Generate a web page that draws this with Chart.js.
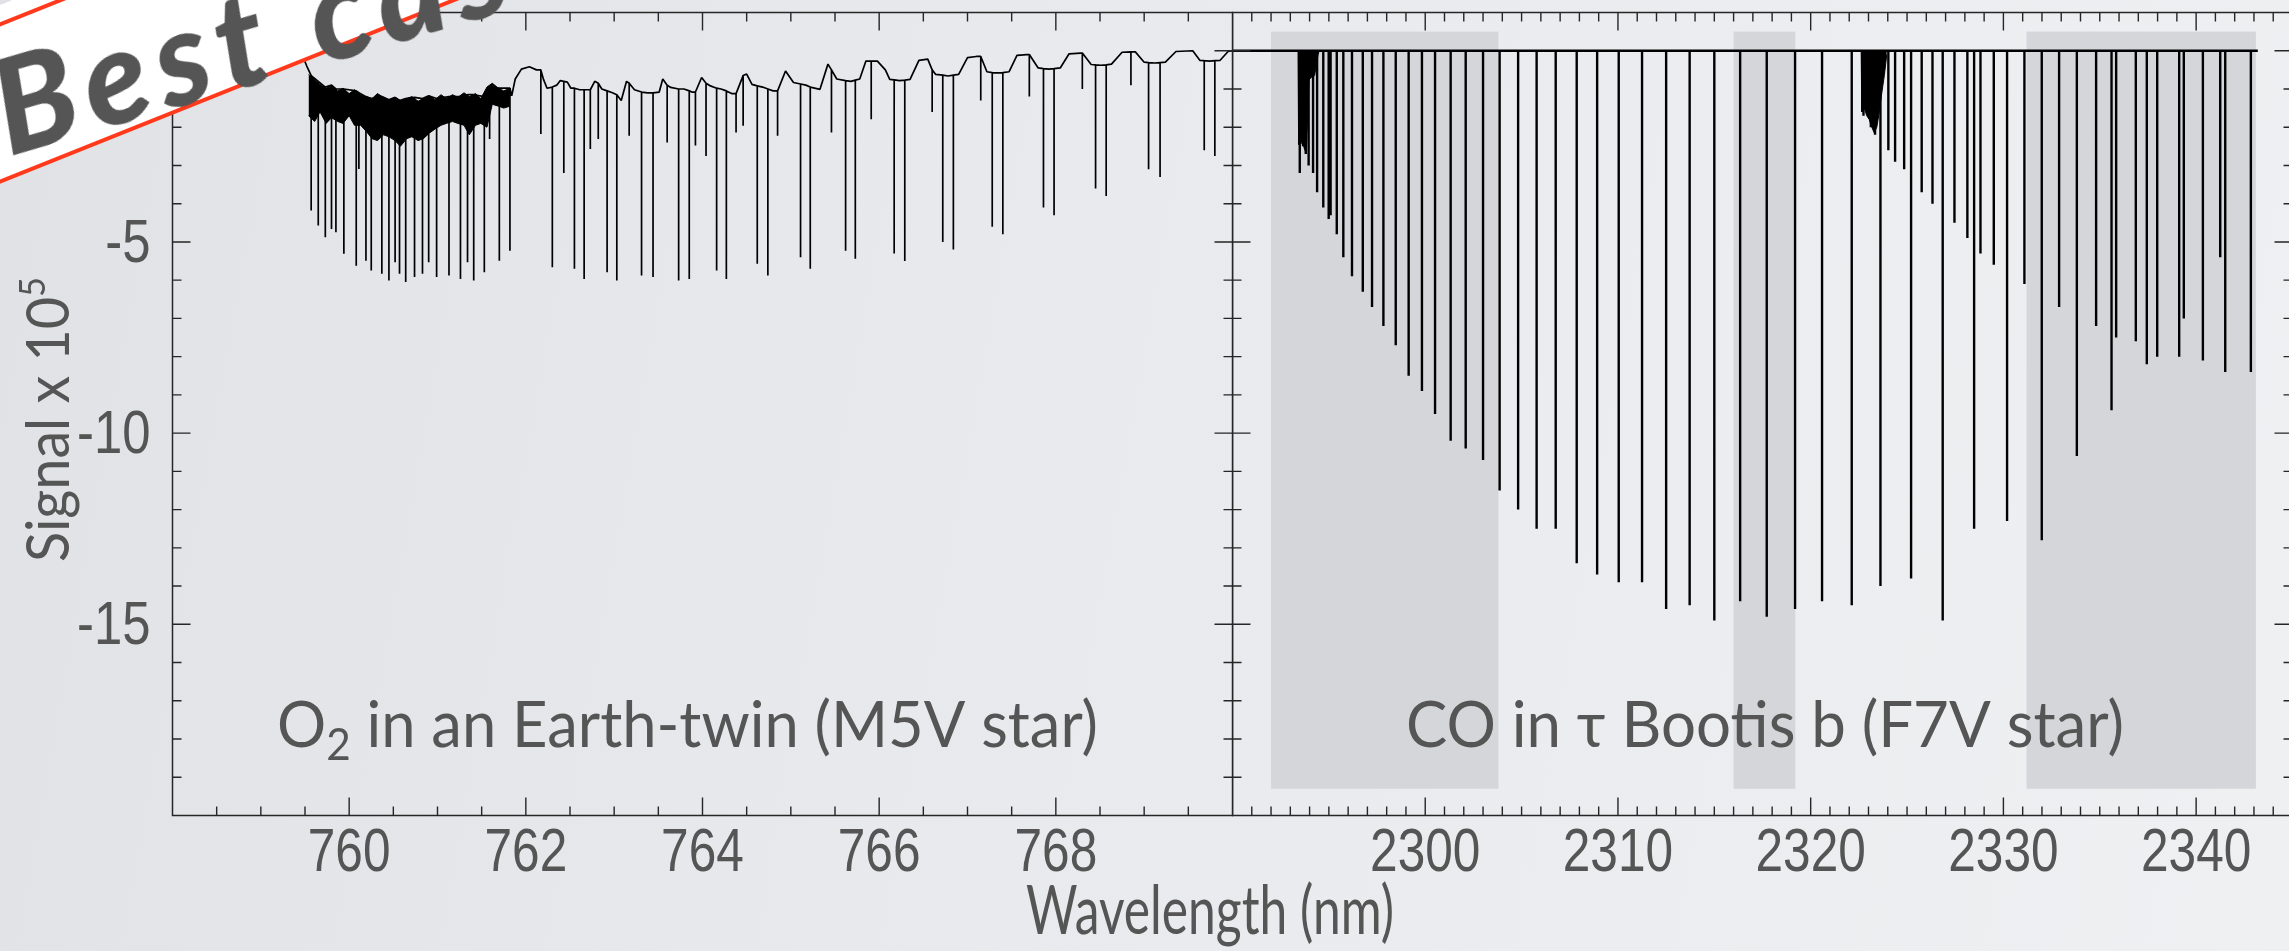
<!DOCTYPE html>
<html>
<head>
<meta charset="utf-8">
<title>O2 and CO transmission signal</title>
<script src="https://cdn.jsdelivr.net/npm/chart.js@4.4.1/dist/chart.umd.min.js"></script>
<style>
  html, body { margin: 0; padding: 0; }
  body {
    position: relative;
    width: 2289px;
    height: 951px;
    overflow: hidden;
    background: linear-gradient(100deg, #e1e2e6 0%, #e8e9ec 40%, #eef0f2 100%);
  }
  canvas { position: absolute; top: 0; }
  #o2Chart { left: 0; }
  #coChart { left: 1232px; }
  #banner {
    position: absolute;
    left: -150px;
    top: 88px;
    width: 820px;
    height: 150px;
    box-sizing: border-box;
    background: #fff;
    border-top: 4.5px solid #ff3a1c;
    border-bottom: 4.5px solid #ff3a1c;
    box-shadow: 0 -16px 0 0 #fff;
    transform-origin: 0 50%;
    transform: rotate(-21.8deg);
    padding-left: 152px;
    font: italic 900 132px Lato, "DejaVu Sans", sans-serif;
    letter-spacing: 10px;
    line-height: 146px;
    color: #555;
    white-space: nowrap;
  }
  #banner span {
    display: inline-block;
    transform-origin: 0 70%;
    transform: rotate(5.5deg);
  }
</style>
</head>
<body>
<canvas id="o2Chart" width="2295" height="951"></canvas>
<canvas id="coChart" width="1063" height="951"></canvas>
<div id="banner"><span>Best case</span></div>
<script>
// ---------- shared signal axis ----------
const yTickLabels = [-5, -10, -15];

// ---------- O2 A band, Earth twin around an M5V star ----------
const o2TickLabels = [760, 762, 764, 766, 768];

// continuum between the line cores
const o2ContWave = [
  758.00, 759.40, 759.47, 759.52, 761.84, 761.88, 761.95, 762.04, 762.12, 762.20,
  762.24, 762.35, 762.39, 762.47, 762.51, 762.61, 762.70, 762.78, 762.86, 762.98,
  763.08, 763.14, 763.23, 763.38, 763.51, 763.55, 763.64, 763.79, 763.88, 763.99,
  764.09, 764.21, 764.33, 764.50, 764.56, 764.68, 764.80, 764.94, 765.03, 765.17,
  765.33, 765.42, 765.52, 765.68, 765.78, 765.85, 765.98, 766.07, 766.12, 766.23,
  766.35, 766.45, 766.55, 766.64, 766.78, 766.90, 767.00, 767.10, 767.22, 767.34,
  767.47, 767.56, 767.67, 767.80, 767.92, 768.05, 768.15, 768.28, 768.40, 768.51,
  768.63, 768.75, 768.90, 769.00, 769.12, 769.24, 769.36, 769.55, 769.63, 769.74,
  769.86, 769.95, 770.00
];
const o2ContLevel = [
  0.00, -0.02, -0.12, -0.40, -1.18, -0.74, -0.48, -0.42, -0.50, -0.75,
  -0.98, -0.90, -0.78, -0.82, -0.98, -1.02, -1.02, -0.80, -1.00, -1.10,
  -1.30, -0.80, -1.02, -1.10, -1.08, -0.74, -0.96, -1.00, -1.08, -0.70,
  -0.92, -1.00, -1.12, -0.61, -0.88, -0.95, -1.05, -0.53, -0.83, -0.90,
  -1.01, -0.35, -0.74, -0.80, -0.74, -0.27, -0.27, -0.50, -0.75, -0.78,
  -0.75, -0.25, -0.22, -0.62, -0.66, -0.62, -0.18, -0.15, -0.55, -0.58,
  -0.55, -0.12, -0.10, -0.45, -0.48, -0.45, -0.08, -0.06, -0.36, -0.38,
  -0.35, -0.04, -0.03, -0.30, -0.32, -0.30, -0.02, 0.00, -0.25, -0.27,
  -0.25, -0.02, 0.00
];

// blended R branch: upper and lower edge of the dark band
const o2BandWave = [
  759.54, 759.61, 759.67, 759.74, 759.80, 759.87, 759.93, 760.00, 760.06, 760.13,
  760.19, 760.26, 760.32, 760.39, 760.45, 760.52, 760.58, 760.65, 760.71, 760.78,
  760.84, 760.91, 760.97, 761.04, 761.10, 761.17, 761.23, 761.30, 761.36, 761.43,
  761.49, 761.56, 761.62, 761.69, 761.75, 761.82
];
const o2BandTop = [
  -0.62, -0.75, -0.88, -0.98, -0.90, -1.05, -0.98, -1.12, -1.02, -1.15,
  -1.20, -1.25, -1.12, -1.22, -1.28, -1.22, -1.30, -1.25, -1.20, -1.32,
  -1.25, -1.18, -1.28, -1.15, -1.25, -1.15, -1.22, -1.10, -1.20, -1.12,
  -1.25, -0.95, -0.85, -0.98, -1.05, -0.98
];
const o2BandBottom = [
  -1.70, -1.85, -1.60, -1.90, -1.75, -1.85, -1.90, -1.70, -1.95, -1.95,
  -2.10, -2.30, -2.35, -2.20, -2.25, -2.35, -2.50, -2.30, -2.25, -2.35,
  -2.30, -2.15, -2.05, -1.95, -1.90, -1.85, -1.90, -1.95, -2.20, -1.95,
  -1.90, -2.00, -1.40, -1.45, -1.50, -1.45
];

// line cores: wavelength, level at the wings, depth at the core
const o2LineWave = [
  759.57, 759.65, 759.73, 759.80, 759.85, 759.94, 760.08, 760.11, 760.19, 760.25,
  760.37, 760.45, 760.52, 760.57, 760.64, 760.74, 760.83, 760.90, 760.99, 761.13,
  761.26, 761.34, 761.41, 761.53, 761.59, 761.70, 761.82, 762.17, 762.30, 762.43,
  762.55, 762.66, 762.73, 762.82, 762.92, 763.03, 763.17, 763.31, 763.44, 763.60,
  763.73, 763.85, 763.92, 764.04, 764.16, 764.27, 764.38, 764.46, 764.62, 764.74,
  764.85, 765.11, 765.22, 765.46, 765.62, 765.73, 765.91, 766.17, 766.29, 766.60,
  766.72, 766.84, 767.15, 767.28, 767.40, 767.70, 767.86, 767.98, 768.30, 768.45,
  768.57, 768.85, 769.05, 769.18, 769.68, 769.80
];
const o2LineTop = [
  -0.65, -0.80, -0.95, -0.90, -1.00, -1.00, -1.05, -1.10, -1.20, -1.25,
  -1.20, -1.28, -1.22, -1.30, -1.25, -1.22, -1.25, -1.18, -1.25, -1.20,
  -1.20, -1.15, -1.15, -1.20, -0.95, -0.98, -0.98, -0.50, -0.95, -0.80,
  -0.98, -1.02, -1.02, -0.85, -1.05, -1.15, -0.85, -1.08, -1.10, -0.90,
  -1.00, -1.05, -1.08, -0.85, -0.98, -1.05, -1.12, -0.65, -0.92, -1.00,
  -1.05, -0.87, -0.95, -0.50, -0.78, -0.77, -0.27, -0.76, -0.77, -0.50,
  -0.64, -0.64, -0.15, -0.57, -0.57, -0.10, -0.47, -0.47, -0.06, -0.37,
  -0.37, -0.03, -0.31, -0.31, -0.26, -0.26
];
const o2LineDepth = [
  -4.18, -4.57, -4.88, -4.66, -4.75, -5.31, -5.62, -3.09, -5.49, -5.75,
  -5.83, -6.01, -5.53, -5.83, -6.05, -5.92, -5.83, -5.53, -5.92, -5.88,
  -5.97, -5.53, -6.01, -5.79, -2.31, -5.49, -5.23, -2.18, -5.66, -3.20,
  -5.70, -5.97, -2.57, -2.31, -5.79, -6.01, -2.22, -5.88, -5.92, -2.40,
  -6.01, -5.97, -2.48, -2.75, -5.75, -5.97, -2.14, -1.96, -5.57, -5.88,
  -2.22, -5.40, -5.70, -2.14, -5.23, -5.44, -1.79, -5.30, -5.50, -1.60,
  -5.00, -5.20, -1.30, -4.60, -4.80, -1.20, -4.10, -4.30, -1.00, -3.60,
  -3.80, -0.90, -3.10, -3.30, -2.60, -2.75
];

// ---------- CO, tau Bootis b around an F7V star ----------
const coTickLabels = [2300, 2310, 2320, 2330, 2340];
const coContWave = [2290, 2343.2];
const coContLevel = [0, 0];

const coLineWave = [
  2293.49, 2293.66, 2293.80, 2293.95, 2294.18, 2294.39, 2294.71, 2294.99, 2295.09, 2295.41,
  2295.75, 2296.20, 2296.76, 2297.24, 2297.83, 2298.47, 2299.14, 2299.83, 2300.51, 2301.32,
  2302.10, 2303.00, 2303.86, 2304.82, 2305.78, 2306.77, 2307.86, 2308.92, 2310.04, 2311.25,
  2312.50, 2313.72, 2315.00, 2316.34, 2317.72, 2319.19, 2320.59, 2322.13, 2322.74, 2322.94,
  2323.12, 2323.34, 2323.62, 2324.03, 2324.38, 2324.85, 2325.21, 2325.76, 2326.32, 2326.85,
  2327.46, 2328.13, 2328.48, 2328.81, 2329.50, 2330.19, 2331.09, 2331.99, 2332.89, 2333.81,
  2334.81, 2335.61, 2335.85, 2336.87, 2337.44, 2337.98, 2339.12, 2339.36, 2340.35, 2341.25,
  2341.51, 2342.84
];
const coLineDepth = [
  -3.2, -2.5, -2.7, -3.0, -3.2, -3.7, -4.1, -4.4, -4.3, -4.8,
  -5.4, -5.9, -6.3, -6.7, -7.2, -7.7, -8.5, -8.9, -9.5, -10.2,
  -10.4, -10.7, -11.5, -12.0, -12.5, -12.5, -13.4, -13.7, -13.9, -13.9,
  -14.6, -14.5, -14.9, -14.4, -14.8, -14.6, -14.4, -14.5, -1.7, -1.6,
  -2.0, -2.2, -14.0, -2.6, -2.9, -3.1, -13.8, -3.7, -4.0, -14.9,
  -4.5, -4.9, -12.5, -5.3, -5.6, -12.3, -6.1, -12.8, -6.7, -10.6,
  -7.2, -9.4, -7.5, -7.6, -8.2, -8.0, -8.0, -7.0, -8.1, -5.4,
  -8.4, -8.4
];

// band heads (2-0 and 3-1): blended cores
const coHead1Wave = [2293.40, 2293.43, 2293.57, 2293.69, 2293.83, 2293.97, 2294.09, 2294.26, 2294.44, 2294.50];
const coHead1Bottom = [0, -2.45, -2.40, -2.50, -2.70, -0.75, -0.70, -0.65, -0.10, 0];
const coHead2Wave = [2322.62, 2322.65, 2322.78, 2322.91, 2323.04, 2323.17, 2323.30, 2323.43, 2323.56, 2323.69, 2323.82, 2323.95];
const coHead2Bottom = [0, -1.6, -1.5, -1.7, -1.8, -2.0, -2.15, -2.0, -1.6, -1.1, -0.65, -0.1];

// shaded windows
const coBoxStart = [2292.0, 2316.0, 2331.2];
const coBoxEnd = [2303.8, 2319.2, 2343.1];
const coBoxTop = 0.5;
const coBoxBottom = -19.3;

// merge continuum points and line cores into one polyline
function buildSpectrum(contWave, contLevel, lineWave, lineTop, lineDepth) {
  const items = contWave.map((w, i) => ({ x: w, pts: [{ x: w, y: contLevel[i] }] }));
  lineWave.forEach((w, i) => {
    const top = Array.isArray(lineTop) ? lineTop[i] : lineTop;
    items.push({ x: w, pts: [{ x: w, y: top }, { x: w, y: lineDepth[i] }, { x: w, y: top }] });
  });
  items.sort((a, b) => a.x - b.x);
  return items.flatMap(it => it.pts);
}

const toPoints = (xs, ys) => xs.map((x, i) => ({ x, y: ys[i] }));

// text with sub/superscripts, squeezed to a given width
function drawRich(ctx, t) {
  ctx.save();
  ctx.fillStyle = '#555';
  ctx.textAlign = 'left';
  ctx.textBaseline = 'alphabetic';
  const fontOf = p => Math.round(t.size * (p[1] || 1)) + 'px Lato, "Open Sans", sans-serif';
  let w = 0;
  t.parts.forEach(p => { ctx.font = fontOf(p); w += ctx.measureText(p[0]).width; });
  ctx.translate(t.x, t.y);
  if (t.rotate) ctx.rotate(t.rotate);
  ctx.scale(t.width / w, 1);
  let cx = 0;
  t.parts.forEach(p => {
    ctx.font = fontOf(p);
    ctx.fillText(p[0], cx, (p[2] || 0) * t.size);
    cx += ctx.measureText(p[0]).width;
  });
  ctx.restore();
}

const TICK_FONT = '62px "Liberation Sans", Arial, sans-serif';

// frame with inward ticks on all four sides, shaded windows, labels
const panelFrame = {
  id: 'panelFrame',
  beforeDatasetsDraw(chart, args, opts) {
    if (!opts.boxStart) return;
    const { ctx, scales: { x, y } } = chart;
    ctx.save();
    ctx.fillStyle = '#d5d6da';
    opts.boxStart.forEach((s, i) => {
      const x0 = x.getPixelForValue(s);
      const x1 = x.getPixelForValue(opts.boxEnd[i]);
      const y0 = y.getPixelForValue(opts.boxTop);
      const y1 = y.getPixelForValue(opts.boxBottom);
      ctx.fillRect(x0, y0, x1 - x0, y1 - y0);
    });
    ctx.restore();
  },
  afterDraw(chart, args, opts) {
    const { ctx, chartArea: a, scales: { x, y } } = chart;
    ctx.save();
    ctx.strokeStyle = '#262626';
    ctx.lineWidth = 1.5;
    ctx.strokeRect(a.left, a.top, a.right - a.left, a.bottom - a.top);

    ctx.lineWidth = 1.4;
    ctx.beginPath();
    const nx = Math.round((x.max - x.min) / opts.xStep);
    for (let i = 1; i < nx; i++) {
      const v = x.min + i * opts.xStep;
      const len = opts.xLabels.some(l => Math.abs(l - v) < 1e-6) ? 18 : 9;
      const px = x.getPixelForValue(v);
      ctx.moveTo(px, a.bottom); ctx.lineTo(px, a.bottom - len);
      ctx.moveTo(px, a.top); ctx.lineTo(px, a.top + len);
    }
    const ny = Math.round(y.max - y.min);
    for (let i = 1; i < ny; i++) {
      const v = y.min + i;
      const len = v % 5 === 0 ? 18 : 9;
      const py = y.getPixelForValue(v);
      ctx.moveTo(a.left, py); ctx.lineTo(a.left + len, py);
      ctx.moveTo(a.right, py); ctx.lineTo(a.right - len, py);
    }
    ctx.stroke();

    ctx.fillStyle = '#555';
    ctx.font = TICK_FONT;
    ctx.textAlign = 'center';
    opts.xLabels.forEach(l => {
      ctx.save();
      ctx.translate(x.getPixelForValue(l), a.bottom + 55);
      ctx.scale(0.8, 1);
      ctx.fillText(String(l), 0, 0);
      ctx.restore();
    });
    if (opts.yLabels) {
      ctx.textAlign = 'right';
      opts.yLabels.forEach(l => {
        ctx.save();
        ctx.translate(a.left - 22, y.getPixelForValue(l) + 20);
        ctx.scale(0.82, 1);
        ctx.fillText(String(l), 0, 0);
        ctx.restore();
      });
    }
    (opts.texts || []).forEach(t => drawRich(ctx, t));
    ctx.restore();
  }
};

function panelOptions(xMin, xMax, padding, frame) {
  return {
    responsive: false,
    animation: false,
    events: [],
    layout: { padding },
    elements: { point: { radius: 0, hitRadius: 0 }, line: { tension: 0, borderJoinStyle: 'bevel' } },
    plugins: { legend: { display: false }, tooltip: { enabled: false }, panelFrame: frame },
    scales: {
      x: { type: 'linear', min: xMin, max: xMax, display: false },
      y: { type: 'linear', min: -20, max: 1, display: false }
    }
  };
}

new Chart(document.getElementById('o2Chart'), {
  type: 'line',
  data: {
    datasets: [
      {
        data: buildSpectrum(o2ContWave, o2ContLevel, o2LineWave, o2LineTop, o2LineDepth),
        borderColor: '#000', borderWidth: 1.7, fill: false
      },
      {
        data: toPoints(o2BandWave, o2BandTop),
        borderColor: '#000', borderWidth: 1, backgroundColor: '#000', fill: '+1'
      },
      {
        data: toPoints(o2BandWave, o2BandBottom),
        borderColor: '#000', borderWidth: 1, fill: false
      }
    ]
  },
  options: panelOptions(758, 770, { left: 172.5, right: 1062.5, top: 12.5, bottom: 135.5 }, {
    xStep: 0.5,
    xLabels: o2TickLabels,
    yLabels: yTickLabels,
    texts: [
      { parts: [['O'], ['2', 0.68, 0.2], [' in an Earth-twin (M5V star)']], x: 277, y: 747, size: 64, width: 821 },
      { parts: [['Wavelength (nm)']], x: 1026, y: 934, size: 68, width: 368 },
      { parts: [['Signal x 10'], ['5', 0.62, -0.4]], x: 69, y: 562, size: 60, width: 285, rotate: -Math.PI / 2 }
    ]
  }),
  plugins: [panelFrame]
});

new Chart(document.getElementById('coChart'), {
  type: 'line',
  data: {
    datasets: [
      {
        data: buildSpectrum(coContWave, coContLevel, coLineWave, 0, coLineDepth),
        borderColor: '#000', borderWidth: 2.4, fill: false
      },
      {
        data: toPoints(coHead1Wave, coHead1Bottom),
        borderColor: '#000', borderWidth: 1, backgroundColor: '#000', fill: 'origin'
      },
      {
        data: toPoints(coHead2Wave, coHead2Bottom),
        borderColor: '#000', borderWidth: 1, backgroundColor: '#000', fill: 'origin'
      }
    ]
  },
  options: panelOptions(2290, 2345, { left: 0.5, right: 2.5, top: 12.5, bottom: 135.5 }, {
    xStep: 1,
    xLabels: coTickLabels,
    boxStart: coBoxStart,
    boxEnd: coBoxEnd,
    boxTop: coBoxTop,
    boxBottom: coBoxBottom,
    texts: [
      { parts: [['CO in τ Bootis b (F7V star)']], x: 174, y: 747, size: 64, width: 718 }
    ]
  }),
  plugins: [panelFrame]
});
</script>
</body>
</html>
